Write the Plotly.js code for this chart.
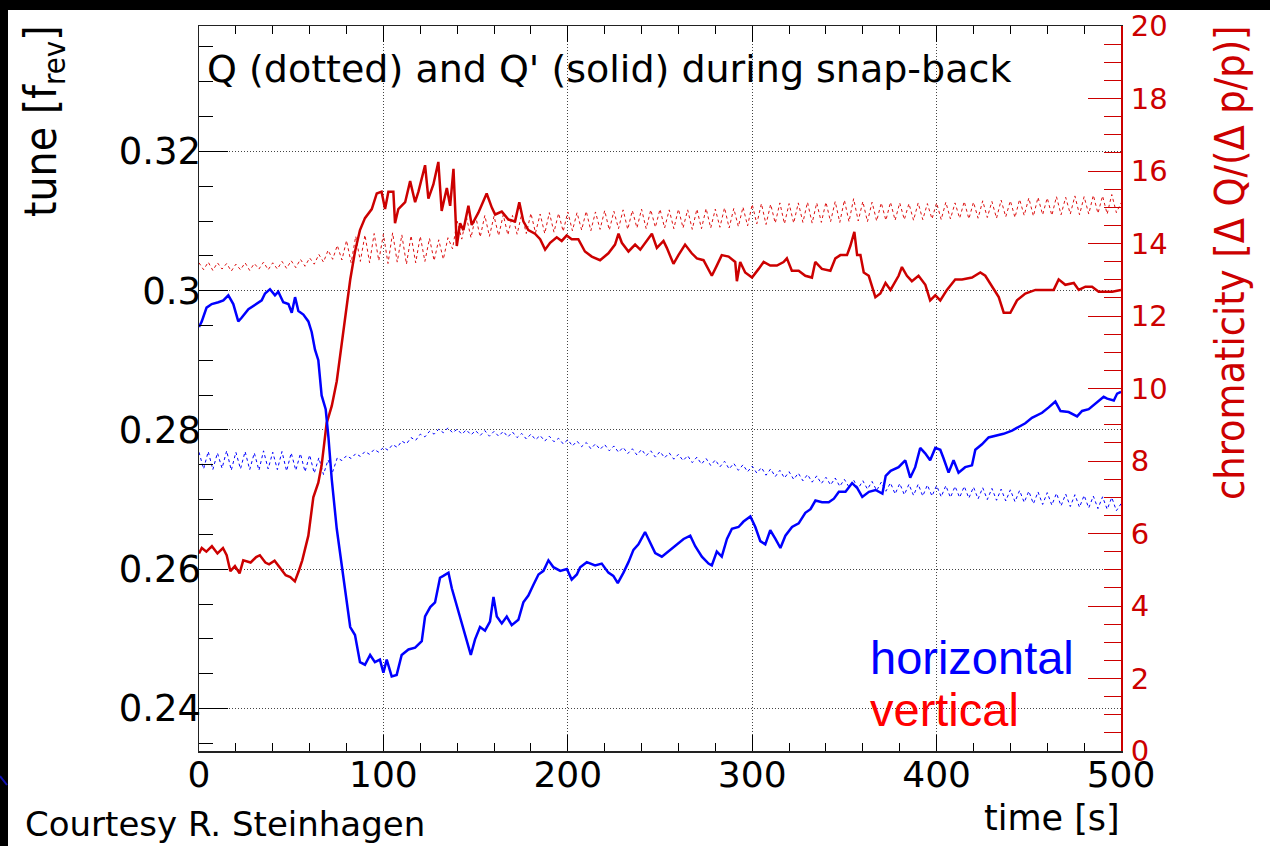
<!DOCTYPE html>
<html>
<head>
<meta charset="utf-8">
<script src="https://cdn.plot.ly/plotly-3.0.1.min.js"></script>
<style>
  html, body { margin: 0; padding: 0; background: #ffffff; }
  #chart { width: 1270px; height: 846px; }
</style>
</head>
<body>
<div id="chart"></div>
<script>
// Betatron tune samples (fractional, units of f_rev), logged every 2.5 s
const TUNE_DT = 2.5;

const tuneVertical = [
  0.3040, 0.3030, 0.3041, 0.3029, 0.3040, 0.3031, 0.3039, 0.3028, 0.3038, 0.3030,
  0.3040, 0.3029, 0.3039, 0.3031, 0.3041, 0.3030, 0.3040, 0.3031, 0.3042, 0.3032,
  0.3043, 0.3033, 0.3045, 0.3035, 0.3047, 0.3038, 0.3052, 0.3041, 0.3058, 0.3045,
  0.3065, 0.3044, 0.3072, 0.3040, 0.3078, 0.3042, 0.3080, 0.3040, 0.3082, 0.3043,
  0.3081, 0.3039, 0.3083, 0.3041, 0.3080, 0.3038, 0.3079, 0.3040, 0.3078, 0.3042,
  0.3075, 0.3043, 0.3073, 0.3045, 0.3076, 0.3060, 0.3100, 0.3074, 0.3106, 0.3076,
  0.3107, 0.3077, 0.3108, 0.3078, 0.3107, 0.3079, 0.3109, 0.3080, 0.3108, 0.3081,
  0.3110, 0.3082, 0.3111, 0.3083, 0.3110, 0.3082, 0.3112, 0.3084, 0.3111, 0.3085,
  0.3113, 0.3086, 0.3112, 0.3087, 0.3114, 0.3086, 0.3113, 0.3088, 0.3115, 0.3087,
  0.3114, 0.3089, 0.3116, 0.3088, 0.3115, 0.3090, 0.3117, 0.3089, 0.3116, 0.3091,
  0.3117, 0.3090, 0.3116, 0.3089, 0.3117, 0.3090, 0.3116, 0.3088, 0.3117, 0.3089,
  0.3118, 0.3090, 0.3117, 0.3091, 0.3119, 0.3090, 0.3118, 0.3092, 0.3120, 0.3093,
  0.3124, 0.3096, 0.3125, 0.3095, 0.3124, 0.3097, 0.3126, 0.3096, 0.3125, 0.3097,
  0.3126, 0.3098, 0.3127, 0.3097, 0.3126, 0.3098, 0.3127, 0.3099, 0.3128, 0.3098,
  0.3130, 0.3099, 0.3132, 0.3100, 0.3128, 0.3099, 0.3127, 0.3100, 0.3126, 0.3101,
  0.3127, 0.3101, 0.3126, 0.3102, 0.3125, 0.3101, 0.3126, 0.3102, 0.3125, 0.3103,
  0.3126, 0.3102, 0.3127, 0.3103, 0.3126, 0.3104, 0.3128, 0.3103, 0.3127, 0.3104,
  0.3129, 0.3105, 0.3128, 0.3104, 0.3130, 0.3106, 0.3129, 0.3105, 0.3131, 0.3108,
  0.3133, 0.3107, 0.3134, 0.3109, 0.3133, 0.3108, 0.3135, 0.3109, 0.3134, 0.3110,
  0.3136, 0.3109, 0.3135, 0.3110, 0.3137, 0.3111, 0.3136, 0.3110, 0.3138, 0.3112,
  0.3126
];

const tuneHorizontal = [
  0.2768, 0.2744, 0.2769, 0.2743, 0.2767, 0.2745, 0.2770, 0.2742, 0.2768, 0.2744,
  0.2769, 0.2743, 0.2767, 0.2742, 0.2770, 0.2744, 0.2768, 0.2743, 0.2769, 0.2741,
  0.2767, 0.2742, 0.2766, 0.2740, 0.2764, 0.2738, 0.2760, 0.2736, 0.2757, 0.2740,
  0.2760, 0.2756, 0.2763, 0.2759, 0.2766, 0.2762, 0.2769, 0.2765, 0.2772, 0.2768,
  0.2775, 0.2771, 0.2779, 0.2775, 0.2784, 0.2780, 0.2789, 0.2785, 0.2794, 0.2790,
  0.2798, 0.2794, 0.2801, 0.2796, 0.2803, 0.2796, 0.2801, 0.2794, 0.2800, 0.2793,
  0.2799, 0.2792, 0.2799, 0.2791, 0.2798, 0.2791, 0.2798, 0.2790, 0.2797, 0.2789,
  0.2795, 0.2787, 0.2794, 0.2786, 0.2792, 0.2784, 0.2791, 0.2783, 0.2788, 0.2780,
  0.2786, 0.2777, 0.2784, 0.2776, 0.2782, 0.2773, 0.2780, 0.2772, 0.2779, 0.2770,
  0.2777, 0.2768, 0.2775, 0.2766, 0.2773, 0.2764, 0.2772, 0.2763, 0.2770, 0.2761,
  0.2769, 0.2760, 0.2767, 0.2758, 0.2765, 0.2756, 0.2763, 0.2753, 0.2761, 0.2751,
  0.2759, 0.2749, 0.2757, 0.2747, 0.2755, 0.2744, 0.2752, 0.2742, 0.2750, 0.2740,
  0.2748, 0.2738, 0.2746, 0.2735, 0.2744, 0.2733, 0.2742, 0.2731, 0.2740, 0.2729,
  0.2738, 0.2727, 0.2736, 0.2725, 0.2734, 0.2723, 0.2732, 0.2721, 0.2731, 0.2719,
  0.2729, 0.2718, 0.2728, 0.2716, 0.2727, 0.2715, 0.2726, 0.2713, 0.2725, 0.2712,
  0.2724, 0.2708, 0.2723, 0.2707, 0.2722, 0.2706, 0.2722, 0.2705, 0.2721, 0.2705,
  0.2720, 0.2704, 0.2720, 0.2703, 0.2719, 0.2703, 0.2719, 0.2702, 0.2718, 0.2701,
  0.2717, 0.2700, 0.2716, 0.2699, 0.2715, 0.2698, 0.2714, 0.2697, 0.2713, 0.2696,
  0.2712, 0.2694, 0.2711, 0.2693, 0.2710, 0.2692, 0.2709, 0.2691, 0.2708, 0.2690,
  0.2707, 0.2689, 0.2706, 0.2688, 0.2705, 0.2687, 0.2704, 0.2686, 0.2703, 0.2684,
  0.2694
];

// Chromaticity Q' = dQ/(dp/p), horizontal plane
const chromaHTime = [
  0, 1.5, 4.1, 6.9, 10.5, 13.2, 15.9, 18.6, 21.3, 23.1,
  26.8, 31.3, 34, 35.8, 38.5, 41.2, 43, 45.7, 48.5, 50.3,
  52.1, 53.9, 56.6, 59.3, 61.1, 62.9, 64.7, 66.5, 68.7, 70.2,
  72, 74.7, 77.4, 80.1, 82, 84.6, 87.3, 90, 92.8, 95.4,
  98.1, 100, 101.8, 104.5, 107.2, 109.9, 113.6, 117.2, 120.8, 122.6,
  125.4, 128, 130.7, 132.5, 135.3, 137.1, 139.8, 141.6, 144.3, 147.4,
  149.7, 152.4, 155.1, 157.8, 159.7, 161.5, 164.2, 166.9, 169.6, 173.2,
  175.9, 178.6, 181.3, 184.1, 186.8, 189.5, 192.2, 195.9, 199.5, 202.1,
  204.9, 206.7, 210.3, 214.8, 218.4, 222, 224.7, 227.1, 230.2, 232.9,
  235.6, 238.3, 241.9, 244.6, 247.4, 251, 255.5, 260, 262.8, 266.4,
  269.1, 272.7, 276.3, 278.1, 280.8, 283.5, 286.3, 289, 292.6, 295.3,
  299, 301.7, 304.4, 307.1, 309.8, 312.6, 315.3, 318, 321.6, 325.2,
  328.8, 331.6, 334.3, 337.9, 341.5, 344.3, 347, 350.6, 354.2, 357,
  359.7, 363.3, 366.9, 370.6, 372.4, 375.1, 379.4, 383, 385.7, 388.4,
  391.1, 393.8, 396.5, 399.3, 402, 403.8, 406.5, 409.2, 411.9, 415.5,
  419.2, 421, 424.6, 428.2, 431.8, 436.3, 440.9, 444.5, 448.1, 451.7,
  457.2, 460.8, 464.4, 467.2, 471.6, 476.2, 478.9, 482.5, 486.1, 490.6,
  492.5, 496.1, 497.9, 500
];
const chromaH = [
  11.7, 11.85, 12.23, 12.33, 12.38, 12.43, 12.57, 12.33, 11.85, 11.95,
  12.19, 12.33, 12.43, 12.62, 12.74, 12.57, 12.67, 12.38, 12.33, 12.09,
  12.52, 12.14, 12.04, 11.85, 11.56, 11.07, 10.78, 9.81, 9.43, 8.65,
  7.49, 6.13, 5.07, 4.1, 3.42, 3.2, 2.45, 2.38, 2.65, 2.45,
  2.52, 2.16, 2.52, 2.06, 2.1, 2.65, 2.8, 2.85, 3.03, 3.71,
  3.97, 4.1, 4.78, 4.83, 4.92, 4.49, 4.0, 3.71, 3.23, 2.65,
  3.08, 3.42, 3.32, 3.57, 4.25, 3.71, 3.52, 3.71, 3.47, 3.62,
  4.1, 4.29, 4.58, 4.87, 4.97, 5.26, 5.07, 4.97, 5.02, 4.73,
  4.87, 5.07, 5.21, 5.12, 5.17, 4.92, 4.83, 4.63, 4.92, 5.21,
  5.55, 5.7, 6.04, 5.75, 5.46, 5.36, 5.55, 5.75, 5.85, 5.94,
  5.65, 5.36, 5.17, 5.12, 5.5, 5.36, 5.85, 6.13, 6.18, 6.33,
  6.47, 6.18, 5.79, 5.7, 6.09, 5.85, 5.6, 5.94, 6.18, 6.28,
  6.57, 6.67, 6.91, 6.86, 6.86, 6.96, 7.15, 7.15, 7.39, 7.25,
  7.01, 7.15, 7.2, 7.1, 7.59, 7.73, 7.83, 8.02, 7.54, 7.83,
  8.36, 8.21, 8.02, 8.36, 8.31, 8.07, 7.68, 8.02, 7.68, 7.83,
  7.88, 8.31, 8.46, 8.65, 8.7, 8.75, 8.84, 8.94, 9.04, 9.19,
  9.33, 9.48, 9.64, 9.38, 9.35, 9.23, 9.38, 9.43, 9.57, 9.77,
  9.72, 9.67, 9.86, 9.91
];

// Chromaticity Q', vertical plane
const chromaVTime = [
  0, 1.5, 4, 7, 10, 13, 15, 17, 19.5, 22,
  24, 28, 31, 33, 36, 38, 41, 44, 47, 49.5,
  52, 54, 56, 59.3, 62, 64.7, 66.5, 69.2, 72, 74.7,
  77.4, 80, 82, 84.6, 87.3, 90, 93.7, 96.4, 99, 100.9,
  102.7, 105.4, 106.3, 108.1, 111.8, 114.5, 117.2, 119, 122.6, 124.4,
  127.1, 129.8, 131.6, 134.4, 136.2, 138, 139.2, 139.8, 141.6, 143.4,
  146.1, 147.9, 151.5, 156, 158.8, 160.6, 164.2, 167.8, 171.4, 173.7,
  175.9, 178.6, 182.2, 185, 187.7, 190.4, 194, 196.7, 199.4, 202.1,
  205.7, 209.3, 213, 217.5, 222, 225.6, 227.5, 229.3, 232.9, 236.5,
  239.3, 242, 245.6, 248.3, 251.9, 253.7, 257.3, 260, 263.6, 267.2,
  270, 273.6, 278.1, 280.8, 283.5, 287.2, 290.8, 291.7, 293.5, 296.2,
  299.9, 303.5, 306.2, 309.8, 313.4, 317, 318.8, 321.5, 325.2, 328.8,
  332.4, 334.2, 337.8, 342.4, 345.1, 347.8, 351.4, 353.2, 355.4, 356.9,
  358.7, 360.5, 363.2, 366.8, 369.5, 372.3, 375, 379.4, 381.2, 383.9,
  386.6, 390.2, 393.9, 396.5, 399.3, 402, 405.6, 410.1, 413.8, 419.2,
  423.7, 426.4, 430.1, 433.7, 436.4, 440, 443.6, 448.1, 453.6, 459,
  463.5, 466.2, 469.8, 474.4, 477.1, 480.7, 484.3, 487.9, 491.6, 495.2,
  500
];
const chromaV = [
  5.45, 5.6, 5.5, 5.65, 5.45, 5.6, 5.4, 4.96, 5.1, 4.9,
  5.26, 5.2, 5.35, 5.4, 5.2, 5.15, 5.25, 5.05, 4.85, 4.8,
  4.68, 4.95, 5.26, 5.94, 7.0, 7.4, 7.88, 9.04, 9.52, 10.2,
  11.27, 12.23, 13.0, 13.78, 14.37, 14.7, 14.95, 15.38, 15.43, 14.95,
  15.43, 15.43, 14.56, 14.95, 15.14, 15.72, 15.14, 15.43, 16.16, 15.24,
  15.63, 16.25, 14.9, 15.53, 15.04, 16.06, 14.37, 13.93, 14.56, 14.37,
  15.04, 14.51, 14.85, 15.38, 14.99, 14.8, 14.88, 14.66, 14.61, 15.14,
  14.61, 14.37, 14.27, 14.12, 13.83, 14.02, 14.17, 14.07, 14.22, 14.12,
  14.12, 13.78, 13.64, 13.54, 13.73, 13.97, 14.27, 14.02, 13.78, 13.97,
  13.83, 14.02, 14.27, 13.88, 14.07, 13.88, 13.44, 13.68, 13.97, 13.73,
  13.59, 13.54, 13.11, 13.39, 13.68, 13.64, 13.49, 12.96, 13.49, 13.2,
  13.06, 13.3, 13.49, 13.39, 13.39, 13.49, 13.59, 13.25, 13.25, 13.11,
  13.06, 13.49, 13.3, 13.25, 13.59, 13.68, 13.68, 13.93, 14.32, 13.68,
  13.68, 13.2, 13.11, 12.52, 12.62, 12.91, 12.72, 13.11, 13.35, 13.11,
  12.96, 13.11, 12.86, 12.43, 12.57, 12.43, 12.72, 13.01, 13.01, 13.06,
  13.2, 13.11, 12.81, 12.52, 12.09, 12.09, 12.43, 12.62, 12.72, 12.72,
  12.72, 13.01, 12.86, 12.91, 12.72, 12.81, 12.81, 12.67, 12.67, 12.67,
  12.72
];

const tuneTime = tuneVertical.map((_, i) => i * TUNE_DT);

const BLUE = '#0000ff';
const RED = '#cc0000';
const FONT = 'DejaVu Sans';
const NARROW = '"DejaVu Sans Condensed", "DejaVu Sans", sans-serif';

const traces = [
  {
    name: 'Q vertical', x: tuneTime, y: tuneVertical, yaxis: 'y',
    type: 'scatter', mode: 'lines',
    line: { color: '#dd1111', width: 1, dash: 'dot' }
  },
  {
    name: 'Q horizontal', x: tuneTime, y: tuneHorizontal, yaxis: 'y',
    type: 'scatter', mode: 'lines',
    line: { color: BLUE, width: 1, dash: 'dot' }
  },
  {
    name: "Q' vertical", x: chromaVTime, y: chromaV, yaxis: 'y2',
    type: 'scatter', mode: 'lines',
    line: { color: RED, width: 2.5 }
  },
  {
    name: "Q' horizontal", x: chromaHTime, y: chromaH, yaxis: 'y2',
    type: 'scatter', mode: 'lines',
    line: { color: BLUE, width: 2.5 }
  }
];

// plot-area frame in pixels, used to place the free text
const L = 199, R = 1121, T = 26, B = 751;
const px = (x) => (x - L) / (R - L);
const py = (y) => (B - y) / (B - T);

const layout = {
  width: 1270, height: 846,
  margin: { l: L, r: 1270 - R, t: T, b: 846 - B, pad: 0 },
  paper_bgcolor: '#ffffff', plot_bgcolor: '#ffffff',
  showlegend: false,
  font: { family: FONT, color: '#000000' },
  title: {
    text: "Q (dotted) and Q' (solid) during snap-back",
    xref: 'container', yref: 'container',
    x: 207 / 1270, xanchor: 'left',
    y: 1 - 69 / 846, yanchor: 'middle',
    font: { family: FONT, size: 38, color: '#000000' }
  },
  xaxis: {
    range: [0, 500], tickmode: 'linear', tick0: 0, dtick: 100,
    ticks: 'inside', ticklen: 16, tickwidth: 1, tickcolor: '#000000',
    showline: true, linecolor: '#222222', linewidth: 1.5, mirror: 'ticks',
    showgrid: true, gridcolor: '#444444', gridwidth: 1, griddash: '1px,2px',
    zeroline: false, ticklabelstandoff: -9,
    tickfont: { family: FONT, size: 36, color: '#000000' },
    minor: { tick0: 0, dtick: 20, ticks: 'inside', ticklen: 8, tickcolor: '#000000', showgrid: false }
  },
  yaxis: {
    range: [0.2339, 0.338],
    tickmode: 'linear', tick0: 0.24, dtick: 0.02,
    ticks: 'inside', ticklen: 29, tickwidth: 1, tickcolor: '#000000',
    showline: true, linecolor: '#222222', linewidth: 1.5,
    showgrid: true, gridcolor: '#444444', gridwidth: 1, griddash: '1px,2px',
    zeroline: false, ticklabelstandoff: -11,
    tickfont: { family: FONT, size: 37, color: '#000000' },
    minor: { tick0: 0.24, dtick: 0.005, ticks: 'inside', ticklen: 14, tickcolor: '#000000', showgrid: false }
  },
  yaxis2: {
    overlaying: 'y', side: 'right', range: [0, 20],
    tickmode: 'linear', tick0: 0, dtick: 2,
    ticks: 'inside', ticklen: 33, tickwidth: 1, tickcolor: RED,
    showline: true, linecolor: RED, linewidth: 2,
    showgrid: false, zeroline: false, ticklabelstandoff: 2,
    tickfont: { family: FONT, size: 29, color: RED },
    minor: { tick0: 0, dtick: 0.5, ticks: 'inside', ticklen: 17, tickcolor: RED, showgrid: false }
  },
  annotations: [
    {
      text: 'tune [f<sub>rev</sub>]', textangle: -90, showarrow: false,
      xref: 'paper', yref: 'paper', x: px(43), y: py(23),
      xanchor: 'center', yanchor: 'top',
      font: { family: NARROW, size: 44, color: '#000000' }
    },
    {
      text: 'chromaticity [\u0394 Q/(\u0394 p/p)]', textangle: -90, showarrow: false,
      xref: 'paper', yref: 'paper', x: px(1230), y: py(24),
      xanchor: 'center', yanchor: 'top',
      font: { family: NARROW, size: 41, color: RED }
    },
    {
      text: 'time [s]', showarrow: false,
      xref: 'paper', yref: 'paper', x: px(1122), y: py(818),
      xanchor: 'right', yanchor: 'middle',
      font: { family: FONT, size: 35, color: '#000000' }
    },
    {
      text: 'Courtesy R. Steinhagen', showarrow: false,
      xref: 'paper', yref: 'paper', x: px(23), y: py(824),
      xanchor: 'left', yanchor: 'middle',
      font: { family: FONT, size: 34, color: '#000000' }
    },
    {
      text: 'horizontal', showarrow: false,
      xref: 'paper', yref: 'paper', x: px(868), y: py(657),
      xanchor: 'left', yanchor: 'middle',
      font: { family: 'Liberation Sans', size: 47, color: BLUE }
    },
    {
      text: 'vertical', showarrow: false,
      xref: 'paper', yref: 'paper', x: px(868), y: py(709),
      xanchor: 'left', yanchor: 'middle',
      font: { family: 'Liberation Sans', size: 47, color: '#ff0000' }
    }
  ],
  shapes: [
    // dark slide border along the top and left edges
    { type: 'rect', xref: 'paper', yref: 'paper', layer: 'above',
      x0: px(-20), x1: px(1300), y0: py(10), y1: py(-20),
      fillcolor: '#000000', line: { width: 0 } },
    { type: 'rect', xref: 'paper', yref: 'paper', layer: 'above',
      x0: px(-20), x1: px(8), y0: py(870), y1: py(-20),
      fillcolor: '#000000', line: { width: 0 } },
    { type: 'line', xref: 'paper', yref: 'paper', layer: 'above',
      x0: px(0), y0: py(776), x1: px(7), y1: py(785),
      line: { color: '#1010b0', width: 2 } }
  ]
};

Plotly.newPlot('chart', traces, layout, { staticPlot: true, displayModeBar: false });
</script>
</body>
</html>
